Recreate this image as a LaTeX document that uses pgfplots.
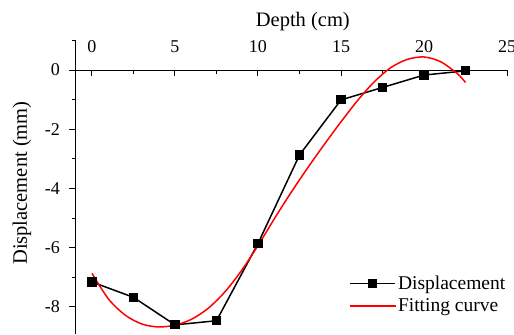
\documentclass[border=0pt]{standalone}
\usepackage{fontspec}
\setmainfont{Liberation Serif}
\usepackage{pgfplots}
\pgfplotsset{compat=1.18}
\begin{document}
\begin{tikzpicture}
\begin{axis}[
  scale only axis, width=431.6pt, height=293.6pt,
  xmin=-1, xmax=25, ymin=-8.92, ymax=1,
  axis x line=middle, axis y line=left,
  axis line style={-, line width=1pt},
  xticklabel pos=upper,
  xtick={0,5,...,25}, minor xtick={2.5,7.5,...,22.5},
  ytick={-8,-6,...,0}, minor ytick={-7,-5,...,1},
  tick align=outside,
  major tick length=6pt, minor tick length=3.5pt,
  tick style={line width=1pt, black},
  /pgf/number format/assume math mode=true,
  ticklabel style={font=\fontsize{18}{20}\selectfont},
  xticklabel style={anchor=south, yshift=20pt},
  yticklabel style={xshift=-6pt},
  xlabel={Depth (cm)}, ylabel={Displacement (mm)},
  every axis x label/.style={at={(axis cs:12.7,0)}, anchor=base, yshift=43pt, font=\fontsize{20.5}{24}\selectfont},
  every axis y label/.style={at={(axis cs:-3.92,-3.82)}, rotate=90, anchor=base, font=\fontsize{20.5}{24}\selectfont},
  legend style={draw=none, fill=none, at={(axis cs:15.5,-6.88)}, anchor=north west, font=\fontsize{19.5}{22}\selectfont, row sep=4pt, inner sep=0pt},
  legend cell align=left,
  legend image code/.code={\draw[mark repeat=2,mark phase=2,#1] plot coordinates {(0pt,0pt) (22.5pt,0pt) (45pt,0pt)};},
]
\addplot[black, line width=1.5pt, mark=square*, mark size=3.8pt] coordinates {
(0,-7.16) (2.5,-7.68) (5,-8.61) (7.5,-8.47) (10,-5.86) (12.5,-2.87) (15,-1.01) (17.5,-0.59) (20,-0.17) (22.5,-0.03)};
\addlegendentry{Displacement}
\addplot[red, line width=1.5pt, smooth] coordinates {
(0,-6.87) (1,-7.74) (2,-8.28) (3,-8.58) (4,-8.68) (5,-8.62) (6,-8.42) (7,-8.05) (8,-7.5) (9,-6.78) (10,-5.93) (11,-5.01) (12,-4.13) (13,-3.3) (14,-2.51) (15,-1.75) (16,-1.03) (17,-0.4) (18,0.08) (19,0.36) (20,0.44) (21,0.28) (22,-0.12) (22.5,-0.42)};
\addlegendentry{Fitting curve}
\coordinate (bb1) at (axis cs:-5.54,-8.92);
\coordinate (bb2) at (axis cs:25.42,2.365);
\end{axis}
\pgfresetboundingbox
\useasboundingbox (bb1) rectangle (bb2);
\end{tikzpicture}
\end{document}
